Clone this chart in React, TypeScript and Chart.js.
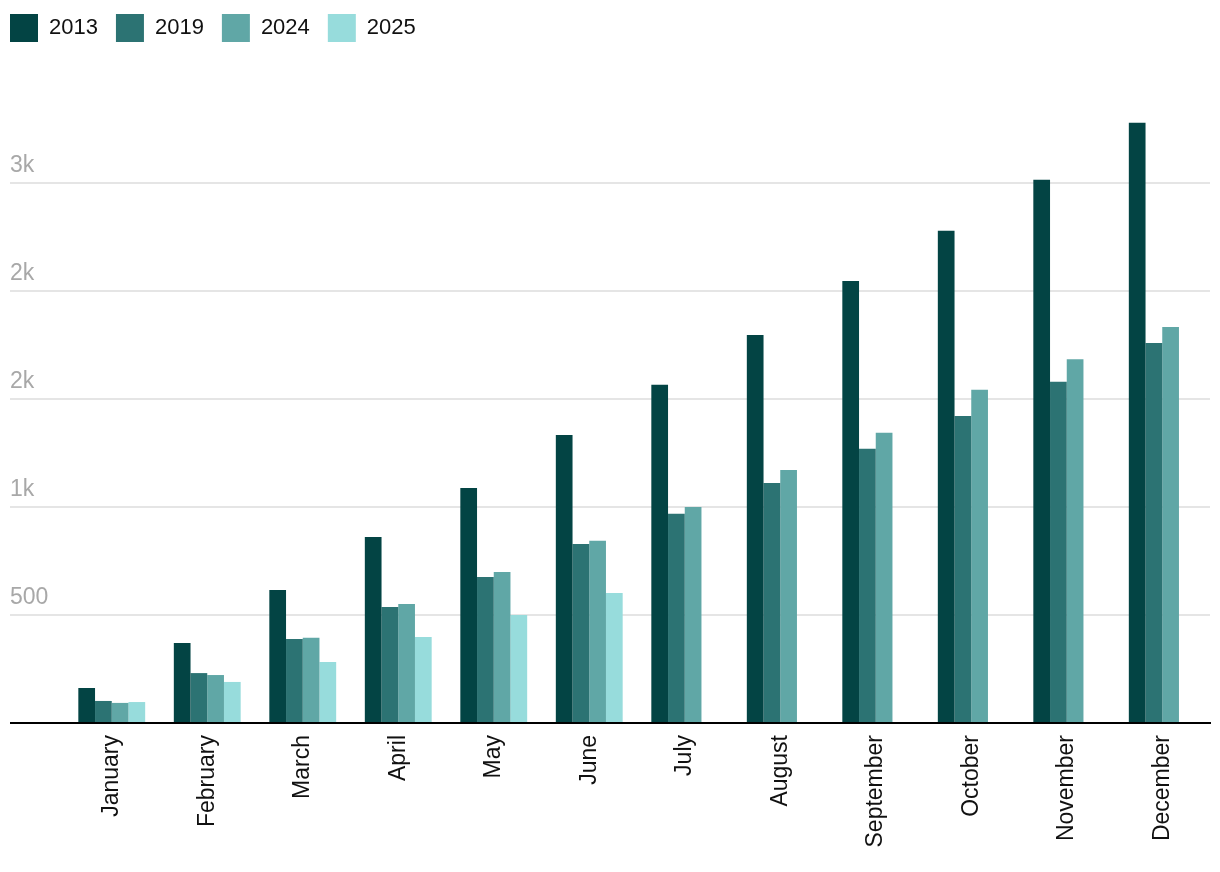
import React, { useEffect, useRef } from 'react';
import { Chart, registerables } from 'chart.js';

Chart.register(...registerables);

const months = [
  'January', 'February', 'March', 'April', 'May', 'June',
  'July', 'August', 'September', 'October', 'November', 'December',
];

const seriesLabels = ['2013', '2019', '2024', '2025'];

const values2013 = [162, 370, 616, 861, 1088, 1333, 1565, 1796, 2046, 2278, 2514, 2778];
const values2019 = [102, 231, 389, 537, 676, 829, 968, 1111, 1269, 1421, 1579, 1759];
const values2024 = [93, 222, 394, 551, 699, 843, 1000, 1171, 1343, 1542, 1683, 1833];
const values2025: (number | null)[] = [97, 190, 282, 398, 500, 602, null, null, null, null, null, null];

const yTickValues = [0, 500, 1000, 1500, 2000, 2500];
const yTickLabels = ['', '500', '1k', '2k', '2k', '3k'];

const seriesColors = ['#034444', '#2c7373', '#60a7a6', '#97dcdc'];

const FONT = '"Liberation Sans", Arial, sans-serif';

const legendShift = {
  id: 'legendShift',
  afterLayout(chart: any) {
    const lg = chart.legend;
    if (!lg) return;
    const pad = lg.options.labels.padding;
    lg.left = 2 - pad;
    lg.top = 6 - pad;
  },
};

export default function App() {
  const ref = useRef<HTMLCanvasElement | null>(null);

  useEffect(() => {
    if (!ref.current) return;
    const allSeries = [values2013, values2019, values2024, values2025];
    const chart = new Chart(ref.current, {
      type: 'bar',
      data: {
        labels: months,
        datasets: allSeries.map((vals, i) => ({
          label: seriesLabels[i],
          data: vals,
          backgroundColor: seriesColors[i],
          borderWidth: 0,
          categoryPercentage: 0.7,
          barPercentage: 1.0,
        })),
      },
      options: {
        responsive: false,
        animation: false,
        events: [],
        layout: { padding: { left: 2, right: 2, top: 0, bottom: 0 } },
        plugins: {
          legend: {
            position: 'top',
            align: 'start',
            labels: {
              boxWidth: 28,
              boxHeight: 28,
              padding: 18,
              color: '#111',
              font: { family: FONT, size: 22 },
            },
          },
          tooltip: { enabled: false },
        },
        scales: {
          x: {
            z: 1,
            grid: { display: false, drawTicks: false },
            border: { display: true, color: '#000', width: 2 },
            ticks: {
              minRotation: 90,
              maxRotation: 90,
              autoSkip: false,
              padding: 12,
              color: '#111',
              font: { family: FONT, size: 23 },
            },
            afterFit(scale: any) {
              scale.height = 141;
            },
          },
          y: {
            min: 0,
            max: 3050,
            border: { display: false },
            afterBuildTicks(scale: any) {
              scale.ticks = yTickValues.map((v) => ({ value: v }));
            },
            afterFit(scale: any) {
              scale.width = 54;
            },
            grid: {
              drawTicks: true,
              tickLength: 54,
              color: (ctx: any) => (ctx.tick && ctx.tick.value === 0 ? '#000' : '#e5e5e5'),
              tickColor: (ctx: any) => (ctx.tick && ctx.tick.value === 0 ? '#000' : '#e5e5e5'),
              lineWidth: 2,
              tickWidth: 2,
            },
            ticks: {
              crossAlign: 'far',
              labelOffset: -17,
              padding: 0,
              color: '#a8a8a8',
              font: { family: FONT, size: 23 },
              callback: (_v: any, i: number) => yTickLabels[i] ?? '',
            },
          },
        },
      },
      plugins: [legendShift],
    } as any);
    return () => chart.destroy();
  }, []);

  return (
    <div style={{ width: 1204, height: 856 }}>
      <canvas ref={ref} width={1204} height={856} style={{ display: 'block' }} />
    </div>
  );
}
